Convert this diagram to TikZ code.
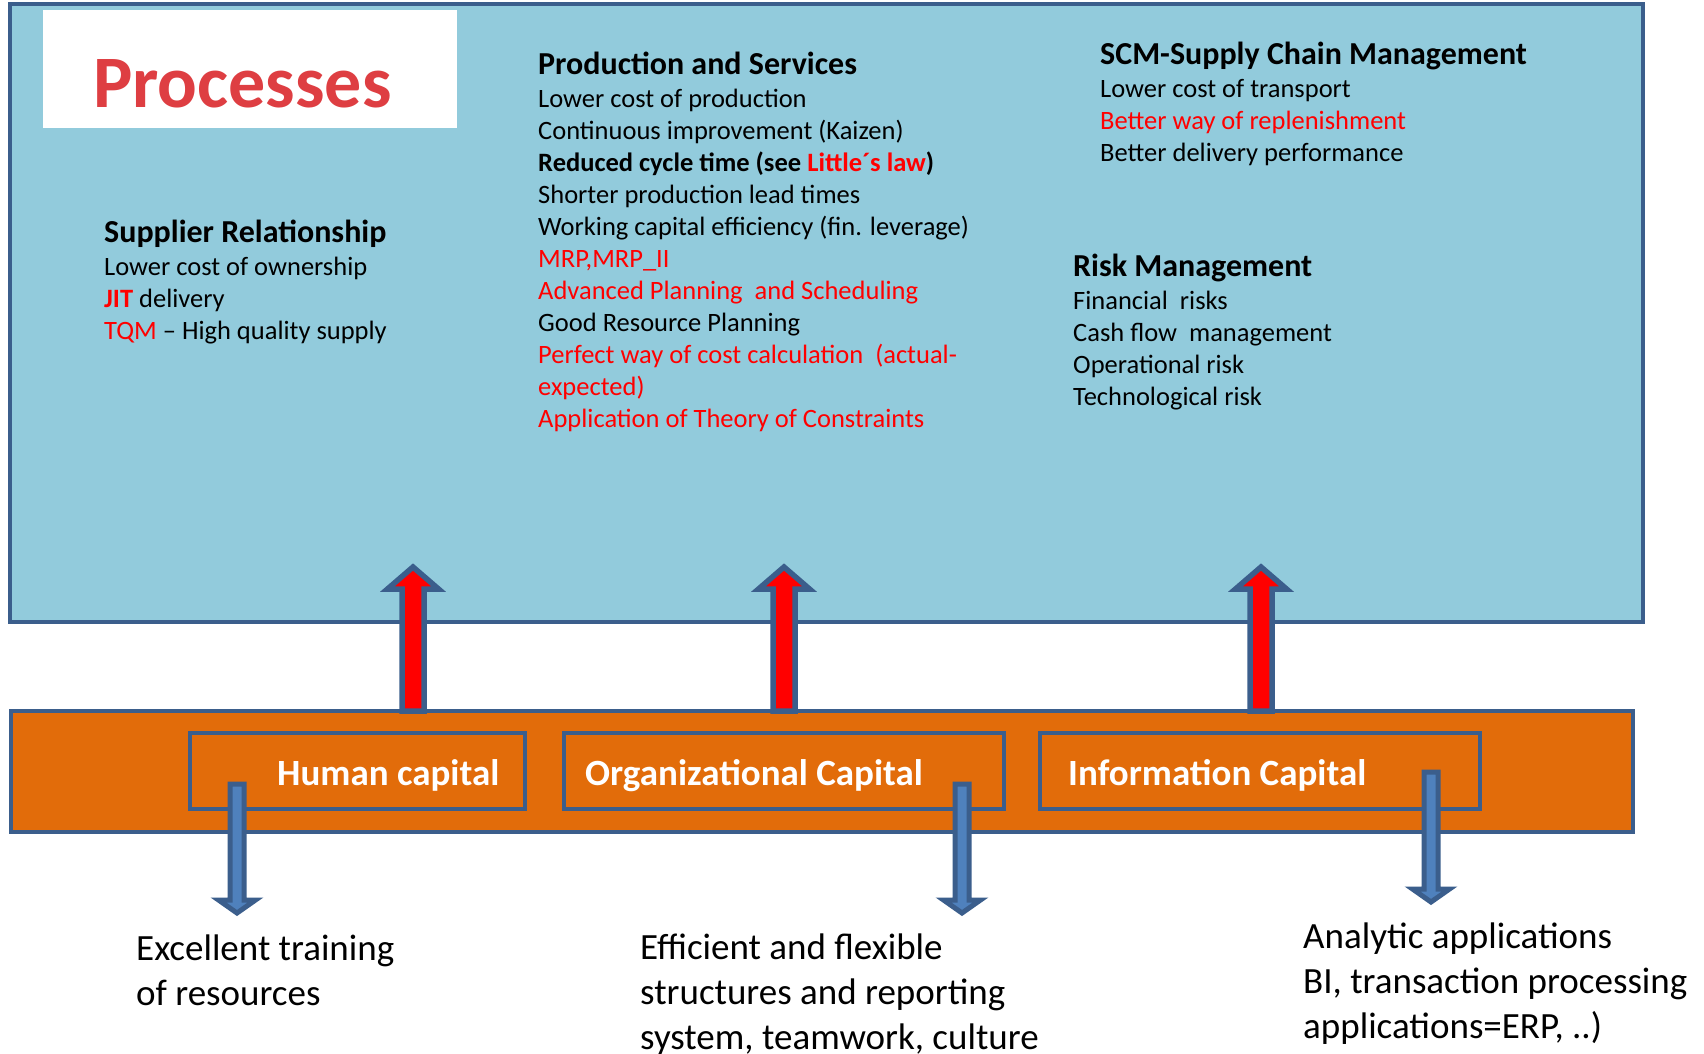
\documentclass[tikz,border=0pt]{standalone}
\usepackage{fontspec}
\setmainfont{Carlito}

\definecolor{procblue}{RGB}{146,203,220}
\definecolor{edgeblue}{RGB}{59,94,140}
\definecolor{caporange}{RGB}{226,108,10}
\definecolor{downblue}{RGB}{79,129,189}
\definecolor{titlered}{RGB}{222,62,66}

\newcommand{\headfont}{\fontsize{32}{34}\selectfont\bfseries}
\newcommand{\hot}[1]{\textcolor{red}{#1}}

\begin{document}
\begin{tikzpicture}[x=1pt,y=-1pt,
  box/.style={draw=edgeblue,line width=4.5pt},
  uparrow/.style={draw=edgeblue,fill=red,line width=5.5pt},
  downarrow/.style={draw=edgeblue,fill=downblue,line width=5pt},
  lines/.style={inner sep=0pt,anchor=north west,align=left,font=\fontsize{26.5}{32}\selectfont},
  capital/.style={inner sep=0pt,anchor=base west,text=white,font=\fontsize{37}{45}\selectfont\bfseries},
  result/.style={inner sep=0pt,anchor=north west,align=left,font=\fontsize{37}{45}\selectfont}]

  \useasboundingbox[fill=white] (0,0) rectangle (1704,1053);

  % processes
  \filldraw[box,fill=procblue] (10,4) rectangle (1643,622);
  \fill[white] (43,10) rectangle (457,128);
  \node[anchor=base west,inner sep=0pt,text=titlered,font=\fontsize{74}{80}\selectfont\bfseries] (title) at (93,107) {Processes};

  \node[lines] (supplier) at (104,220) {{\headfont Supplier Relationship}\\[1pt]
    Lower cost of ownership\\
    \hot{\textbf{JIT}} delivery\\
    \hot{TQM} – High quality supply};
  \node[lines] (production) at (538,52) {{\headfont Production and Services}\\[1pt]
    Lower cost of production\\
    Continuous improvement (Kaizen)\\
    \textbf{Reduced cycle time (see \hot{Little´s law})}\\
    Shorter production lead times\\
    Working capital efficiency (fin. leverage)\\
    \hot{MRP,MRP\_II}\\
    \hot{Advanced Planning\ \ and Scheduling}\\
    Good Resource Planning\\
    \hot{Perfect way of cost calculation\ \ (actual-}\\
    \hot{expected)}\\
    \hot{Application of Theory of Constraints}};
  \node[lines] (scm) at (1100,42) {{\headfont SCM-Supply Chain Management}\\[1pt]
    Lower cost of transport\\
    \hot{Better way of replenishment}\\
    Better delivery performance};
  \node[lines] (risk) at (1073,254) {{\headfont Risk Management}\\[1pt]
    Financial\ \ risks\\
    Cash flow\ \ management\\
    Operational risk\\
    Technological risk};

  % capitals
  \filldraw[box,fill=caporange] (11,711) rectangle (1633,832);
  \draw[box] (190,733) rectangle (525,809);
  \draw[box] (564,733) rectangle (1004,809);
  \draw[box] (1040,733) rectangle (1480,809);
  \node[capital] (human) at (277,785) {Human capital};
  \node[capital] (orgcap) at (585,785) {Organizational Capital};
  \node[capital] (infocap) at (1068,785) {Information Capital};

  % up arrows
  \begin{scope}[xshift=413pt]
    \filldraw[uparrow] (-11,711) -- (-11,589) -- (-25.5,589) -- (0,567) -- (25.5,589) -- (11,589) -- (11,711) -- cycle;
  \end{scope}
  \begin{scope}[xshift=784pt]
    \filldraw[uparrow] (-11,711) -- (-11,589) -- (-25.5,589) -- (0,567) -- (25.5,589) -- (11,589) -- (11,711) -- cycle;
  \end{scope}
  \begin{scope}[xshift=1261pt]
    \filldraw[uparrow] (-11,711) -- (-11,589) -- (-25.5,589) -- (0,567) -- (25.5,589) -- (11,589) -- (11,711) -- cycle;
  \end{scope}

  % down arrows
  \begin{scope}[xshift=237pt]
    \filldraw[downarrow] (-7,784) -- (-7,900) -- (-18.5,900) -- (0,913) -- (18.5,900) -- (7,900) -- (7,784) -- cycle;
  \end{scope}
  \begin{scope}[xshift=962pt]
    \filldraw[downarrow] (-7,784) -- (-7,900) -- (-18.5,900) -- (0,913) -- (18.5,900) -- (7,900) -- (7,784) -- cycle;
  \end{scope}
  \begin{scope}[xshift=1431pt]
    \filldraw[downarrow] (-7,772) -- (-7,889) -- (-18.5,889) -- (0,902) -- (18.5,889) -- (7,889) -- (7,772) -- cycle;
  \end{scope}

  % results
  \node[result] (training) at (136,935) {Excellent training\\ of resources};
  \node[result] (structures) at (640,934) {Efficient and flexible\\ structures and reporting\\ system, teamwork, culture};
  \node[result] (analytic) at (1303,923) {Analytic applications\\ BI, transaction processing\\ applications=ERP, ..)};
\end{tikzpicture}
\end{document}
